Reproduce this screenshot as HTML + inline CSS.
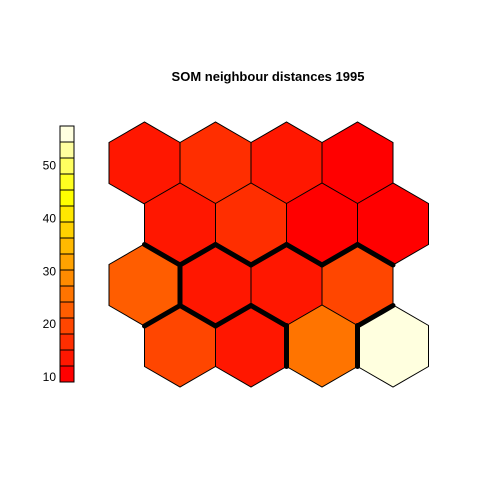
<!DOCTYPE html>
<html><head><meta charset="utf-8"><style>body{margin:0;background:#fff}svg{display:block}</style></head>
<body>
<svg id="c" width="480" height="480" xmlns="http://www.w3.org/2000/svg" font-family="Liberation Sans, sans-serif">
<text x="268" y="81" text-anchor="middle" font-size="13" font-weight="bold">SOM neighbour distances 1995</text>
<g id="legend"></g>
<g id="hexes"></g>
<g id="borders"></g>
</svg>
<script>
// data: distances per unit, rows top-to-bottom
const row1 = [13, 16, 13, 10];
const row2 = [13, 16, 10, 10];
const row3 = [22, 13, 13, 20];
const row4 = [21, 13, 25, 57];
const legendTicks = [10, 20, 30, 40, 50];
const thickEdges = [[1,0,1],[1,0,2],[1,1,1],[1,1,2],[1,2,1],[1,2,2],[1,3,2],[2,0,0],[2,0,1],[2,1,1],[2,1,2],[2,2,2],[2,3,1],[3,1,0],[3,2,0]];
const colors = ['#FF0000','#FF1700','#FF2E00','#FF4600','#FF5D00','#FF7400','#FF8B00','#FFA200','#FFB900','#FFD100','#FFE800','#FFFF00','#FFFF20','#FFFF60','#FFFF9F','#FFFFDF'];
const vmin = 9.05, vmax = 57.5;
const ns = 'http://www.w3.org/2000/svg';
const rows = [row1, row2, row3, row4];
function colorOf(v){let i=Math.floor((v-vmin)/(vmax-vmin)*16);i=Math.max(0,Math.min(15,i));return colors[i];}
const ly = v => 382 - (v - vmin) / (vmax - vmin) * 256;
const leg = document.getElementById('legend');
colors.forEach((c,i)=>{
  const r=document.createElementNS(ns,'rect');
  r.setAttribute('x',60);r.setAttribute('y',382-(i+1)*16);r.setAttribute('width',14);r.setAttribute('height',16);
  r.setAttribute('fill',c);r.setAttribute('stroke','#000');r.setAttribute('stroke-width',1);
  
  
  leg.appendChild(r);
});
legendTicks.forEach(t=>{
  const tx=document.createElementNS(ns,'text');
  tx.setAttribute('x',56);tx.setAttribute('y',ly(t)+4);tx.setAttribute('text-anchor','end');tx.setAttribute('font-size',12);
  tx.textContent=t;
  
  
  leg.appendChild(tx);
});
const R=41, W=71, DY=61, X0=144.5, Y0=163;
function center(r,c){return [X0 + c*W + (r%2? W/2:0), Y0 + r*DY];}
function verts(cx,cy){return [[cx+W/2,cy-R/2],[cx+W/2,cy+R/2],[cx,cy+R],[cx-W/2,cy+R/2],[cx-W/2,cy-R/2],[cx,cy-R]];}
const hg=document.getElementById('hexes');
rows.forEach((row,r)=>row.forEach((v,c)=>{
  const [cx,cy]=center(r,c);
  const p=document.createElementNS(ns,'polygon');
  p.setAttribute('points',verts(cx,cy).map(q=>q.join(',')).join(' '));
  p.setAttribute('fill',colorOf(v));p.setAttribute('stroke','#000');p.setAttribute('stroke-width',1);
  
  
  hg.appendChild(p);
}));
const bg=document.getElementById('borders');
thickEdges.forEach(([r,c,k])=>{
  const [cx,cy]=center(r,c);const vs=verts(cx,cy);const a=vs[k],b=vs[(k+1)%6];
  const l=document.createElementNS(ns,'line');
  l.setAttribute('x1',a[0]);l.setAttribute('y1',a[1]);l.setAttribute('x2',b[0]);l.setAttribute('y2',b[1]);
  l.setAttribute('stroke','#000');l.setAttribute('stroke-width',5);l.setAttribute('stroke-linecap','round');
  
  
  bg.appendChild(l);
});
</script>
</body></html>
